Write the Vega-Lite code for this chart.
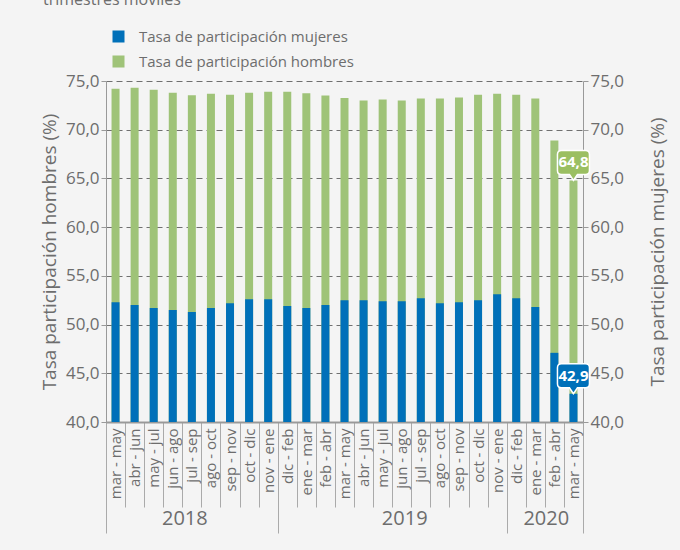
{
  "$schema": "https://vega.github.io/schema/vega-lite/v6.json",
  "width": 477,
  "height": 341,
  "autosize": {"type": "none"},
  "padding": {"left": 106, "top": 81, "right": 97, "bottom": 128},
  "background": "#f4f4f4",
  "config": {
    "locale": {"number": {"decimal": ",", "thousands": ".", "grouping": [3], "currency": ["$", ""]}},
    "font": "Open Sans",
    "view": {"stroke": null},
    "axis": {"labelColor": "#6d6d6d", "titleColor": "#6d6d6d", "titleFontWeight": "normal", "domainColor": "#999", "tickColor": "#999"}
  },
  "title": {"text": "trimestres móviles", "anchor": "start", "frame": "group", "fontSize": 16, "fontWeight": "normal", "color": "#6d6d6d", "offset": 21, "dx": -63},
  "data": {"values": [
    {"periodo": "2018|mar - may", "hombres": 74.2, "mujeres": 52.3},
    {"periodo": "2018|abr - jun", "hombres": 74.3, "mujeres": 52.0},
    {"periodo": "2018|may - jul", "hombres": 74.1, "mujeres": 51.7},
    {"periodo": "2018|jun - ago", "hombres": 73.8, "mujeres": 51.5},
    {"periodo": "2018|jul - sep", "hombres": 73.55, "mujeres": 51.3},
    {"periodo": "2018|ago - oct", "hombres": 73.7, "mujeres": 51.7},
    {"periodo": "2018|sep - nov", "hombres": 73.6, "mujeres": 52.2},
    {"periodo": "2018|oct - dic", "hombres": 73.8, "mujeres": 52.6},
    {"periodo": "2018|nov - ene", "hombres": 73.9, "mujeres": 52.6},
    {"periodo": "2019|dic - feb", "hombres": 73.9, "mujeres": 51.9},
    {"periodo": "2019|ene - mar", "hombres": 73.75, "mujeres": 51.7},
    {"periodo": "2019|feb - abr", "hombres": 73.5, "mujeres": 52.0},
    {"periodo": "2019|mar - may", "hombres": 73.25, "mujeres": 52.5},
    {"periodo": "2019|abr - jun", "hombres": 73.0, "mujeres": 52.5},
    {"periodo": "2019|may - jul", "hombres": 73.1, "mujeres": 52.4},
    {"periodo": "2019|jun - ago", "hombres": 73.0, "mujeres": 52.4},
    {"periodo": "2019|jul - sep", "hombres": 73.2, "mujeres": 52.7},
    {"periodo": "2019|ago - oct", "hombres": 73.2, "mujeres": 52.2},
    {"periodo": "2019|sep - nov", "hombres": 73.3, "mujeres": 52.3},
    {"periodo": "2019|oct - dic", "hombres": 73.6, "mujeres": 52.5},
    {"periodo": "2019|nov - ene", "hombres": 73.7, "mujeres": 53.1},
    {"periodo": "2020|dic - feb", "hombres": 73.6, "mujeres": 52.7},
    {"periodo": "2020|ene - mar", "hombres": 73.2, "mujeres": 51.8},
    {"periodo": "2020|feb - abr", "hombres": 68.9, "mujeres": 47.1},
    {"periodo": "2020|mar - may", "hombres": 64.8, "mujeres": 42.9}
  ]},
  "layer": [
    {
      "encoding": {
        "x": {
          "field": "periodo", "type": "nominal", "sort": null,
          "scale": {"paddingInner": 0, "paddingOuter": 0},
          "axis": {
            "orient": "bottom", "title": null,
            "labelExpr": "split(datum.value, '|')[1]",
            "labelAngle": 270, "labelAlign": "right", "labelBaseline": "middle",
            "labelFontSize": 15, "labelColor": "#6d6d6d",
            "tickBand": "extent", "tickColor": "#aaa", "tickWidth": 1,
            "tickSize": {"condition": {"test": "!datum.value || indexof(['2018|nov - ene', '2019|nov - ene', '2020|mar - may'], datum.value) >= 0", "value": 111}, "value": 85},
            "labelPadding": {"condition": {"test": "!datum.value || indexof(['2018|nov - ene', '2019|nov - ene', '2020|mar - may'], datum.value) >= 0", "value": -105}, "value": -79},
            "domainColor": "#999", "domainWidth": 2, "grid": false
          }
        },
        "y": {
          "field": "hombres", "type": "quantitative",
          "scale": {"domain": [40, 75], "zero": false, "nice": false},
          "axis": {
            "orient": "left", "title": "Tasa participación hombres (%)",
            "values": [40, 45, 50, 55, 60, 65, 70, 75], "format": ".1f",
            "labelFontSize": 17, "titleFontSize": 19,
            "grid": true, "gridDash": [6, 4], "gridColor": "#707070", "gridWidth": 1,
            "tickSize": 5, "labelPadding": 2, "titlePadding": 6
          }
        }
      },
      "layer": [
        {
          "mark": {"type": "bar", "size": 8},
          "encoding": {
            "y2": {"datum": 40},
            "color": {
              "datum": "Tasa de participación hombres",
              "scale": {"domain": ["Tasa de participación mujeres", "Tasa de participación hombres"], "range": ["#0070b9", "#9fc378"]},
              "legend": {"title": null, "orient": "none", "legendX": 5, "legendY": -52, "symbolType": "square", "symbolSize": 144, "labelFontSize": 15, "labelColor": "#6d6d6d", "labelLimit": 0, "rowPadding": 9, "labelOffset": 13, "padding": 0, "symbolStrokeWidth": 0, "symbolOpacity": 1}
            }
          }
        },
        {
          "transform": [{"filter": "datum.periodo == '2020|mar - may'"}],
          "mark": {"type": "point", "shape": "M0,0L-0.25,-0.375L-0.75,-0.375Q-1,-0.375,-1,-0.625L-1,-1.625Q-1,-1.875,-0.75,-1.875L0.75,-1.875Q1,-1.875,1,-1.625L1,-0.625Q1,-0.375,0.75,-0.375L0.25,-0.375Z", "size": 1024, "filled": true, "fill": "#9bbf62", "stroke": "white", "strokeWidth": 1.5, "opacity": 1}
        },
        {
          "transform": [{"filter": "datum.periodo == '2020|mar - may'"}],
          "mark": {"type": "text", "dy": -18, "color": "white", "fontWeight": "bold", "fontSize": 15, "baseline": "middle"},
          "encoding": {"text": {"field": "hombres", "type": "quantitative", "format": ".1f"}}
        }
      ]
    },
    {
      "encoding": {
        "x": {
          "field": "periodo", "type": "nominal", "sort": null,
          "axis": {
            "orient": "bottom", "title": null,
            "values": ["2018|jul - sep", "2019|jun - ago", "2020|ene - mar"],
            "labelExpr": "split(datum.value, '|')[0]",
            "labelAngle": 0, "labelFontSize": 20, "labelColor": "#6d6d6d",
            "labelBaseline": "top", "labelAlign": "center",
            "ticks": false, "domain": false, "grid": false, "labelPadding": 86,
            "labelOffset": {"condition": [{"test": "datum.value == '2018|jul - sep'", "value": -7}, {"test": "datum.value == '2020|ene - mar'", "value": 11}], "value": 3}
          }
        },
        "y": {
          "field": "mujeres", "type": "quantitative",
          "scale": {"domain": [40, 75], "zero": false, "nice": false},
          "axis": {
            "orient": "right", "title": "Tasa participación mujeres (%)", "titleAngle": 270,
            "values": [40, 45, 50, 55, 60, 65, 70, 75], "format": ".1f",
            "labelFontSize": 17, "titleFontSize": 19,
            "grid": false, "tickSize": 5, "labelPadding": 2, "titlePadding": 44
          }
        }
      },
      "layer": [
        {
          "mark": {"type": "bar", "size": 8},
          "encoding": {
            "y2": {"datum": 40},
            "color": {"datum": "Tasa de participación mujeres"}
          }
        },
        {
          "transform": [{"filter": "datum.periodo == '2020|mar - may'"}],
          "mark": {"type": "point", "shape": "M0,0L-0.25,-0.375L-0.75,-0.375Q-1,-0.375,-1,-0.625L-1,-1.625Q-1,-1.875,-0.75,-1.875L0.75,-1.875Q1,-1.875,1,-1.625L1,-0.625Q1,-0.375,0.75,-0.375L0.25,-0.375Z", "size": 1024, "filled": true, "fill": "#0070b9", "stroke": "white", "strokeWidth": 1.5, "opacity": 1}
        },
        {
          "transform": [{"filter": "datum.periodo == '2020|mar - may'"}],
          "mark": {"type": "text", "dy": -18, "color": "white", "fontWeight": "bold", "fontSize": 15, "baseline": "middle"},
          "encoding": {"text": {"field": "mujeres", "type": "quantitative", "format": ".1f"}}
        }
      ]
    }
  ],
  "resolve": {"scale": {"y": "independent"}, "axis": {"x": "independent", "y": "independent"}}
}
